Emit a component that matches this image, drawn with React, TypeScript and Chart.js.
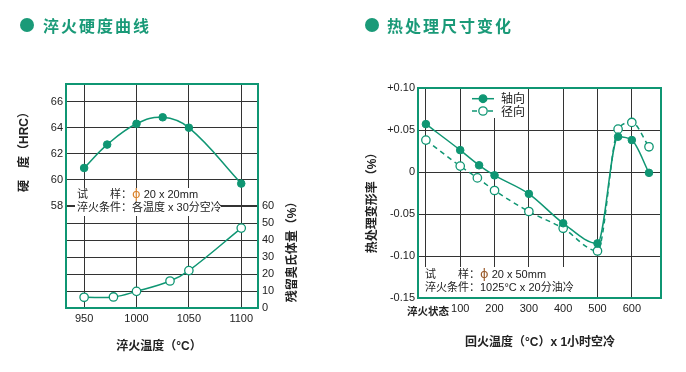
import React, { useEffect, useRef } from 'react';
import { Chart, registerables } from 'chart.js';

Chart.register(...registerables);

const GREEN = '#0f9673';
const TITLE_GREEN = '#1a9a78';
const GRID = '#333333';
const TEXT = '#222222';
const ORANGE = '#d9822b';
const NUM_FONT = '"Liberation Sans", Arial, sans-serif';

// ---------- Left chart: 淬火硬度曲线 ----------
const leftTitle = '淬火硬度曲线';
const hardTemps = [950, 972, 1000, 1025, 1050, 1100];
const hardness = [60.9, 62.7, 64.3, 64.8, 64.0, 59.7];
const austTemps = [950, 978, 1000, 1032, 1050, 1100];
const austenite = [6.3, 6.5, 9.8, 15.9, 22.0, 47.0];
const leftXTicks = [950, 1000, 1050, 1100];
const hardTicks = [58, 60, 62, 64, 66];
const austTicks = [0, 10, 20, 30, 40, 50, 60];
const leftYTitle = '硬　度（HRC）';
const leftY2Title = '残留奥氏体量（%）';
const leftXTitle = '淬火温度（°C）';
const leftNote1 = ['试　　样：', 'ϕ', ' 20 x 20mm'];
const leftNote2 = ['淬火条件：各温度 x 30分空冷'];

// ---------- Right chart: 热处理尺寸变化 ----------
const rightTitle = '热处理尺寸变化';
const axialTemps = [0, 100, 155, 200, 300, 400, 500, 560, 600, 650];
const axial = [0.057, 0.026, 0.008, -0.004, -0.026, -0.061, -0.085, 0.042, 0.038, -0.001];
const radialTemps = [0, 100, 150, 200, 300, 400, 500, 560, 600, 650];
const radial = [0.038, 0.007, -0.007, -0.022, -0.047, -0.067, -0.094, 0.051, 0.059, 0.030];
const rightXTicks = [0, 100, 200, 300, 400, 500, 600];
const rightXLabels = ['淬火状态', '100', '200', '300', '400', '500', '600'];
const rightYTicks = [-0.15, -0.1, -0.05, 0, 0.05, 0.1];
const rightYLabels = ['-0.15', '-0.10', '-0.05', '0', '+0.05', '+0.10'];
const legendLabels = ['轴向', '径向'];
const rightYTitle = '热处理变形率（%）';
const rightXTitle = '回火温度（°C）x 1小时空冷';
const rightNote1 = ['试　　样：', 'ϕ', ' 20 x 50mm'];
const rightNote2 = ['淬火条件：1025°C x 20分油冷'];

type Run = { t: string; c: string; f?: string };

function drawRuns(ctx: CanvasRenderingContext2D, x: number, y: number, runs: Run[], font: string) {
  ctx.textBaseline = 'middle';
  ctx.textAlign = 'left';
  let cx = x;
  for (const r of runs) {
    ctx.font = r.f || font;
    ctx.fillStyle = r.c;
    ctx.fillText(r.t, cx, y);
    cx += ctx.measureText(r.t).width;
  }
}

function drawText(ctx: CanvasRenderingContext2D, text: string, x: number, y: number, font: string, rot = 0) {
  ctx.save();
  ctx.translate(x, y);
  ctx.rotate(rot);
  ctx.font = font;
  ctx.fillStyle = TEXT;
  ctx.textAlign = 'center';
  ctx.textBaseline = 'middle';
  ctx.fillText(text, 0, 0);
  ctx.restore();
}

const PHI_FONT = '13px "DejaVu Sans", sans-serif';
const noteRuns = (parts: string[], phiColor: string): Run[] =>
  parts.map((t) => (t === 'ϕ' ? { t, c: phiColor, f: PHI_FONT } : { t, c: TEXT }));

const tickFont = { size: 11, family: NUM_FONT };
const AXIS_TITLE_FONT = 'bold 12px "Liberation Sans", "Noto Sans CJK SC", sans-serif';
const NOTE_FONT = '11px "Liberation Sans", "Noto Sans CJK SC", sans-serif';

const leftDecor = {
  id: 'leftDecor',
  beforeDatasetsDraw(chart: any) {
    const { ctx, chartArea: a } = chart;
    ctx.save();
    ctx.fillStyle = '#ffffff';
    ctx.fillRect(75, 188, 146, 28);
    drawRuns(ctx, 77, 195, noteRuns(leftNote1, ORANGE), NOTE_FONT);
    drawRuns(ctx, 77, 208, noteRuns(leftNote2, ORANGE), NOTE_FONT);
    ctx.strokeStyle = GREEN;
    ctx.lineWidth = 2;
    ctx.strokeRect(a.left, a.top, a.right - a.left, a.bottom - a.top);
    ctx.restore();
  },
  afterDraw(chart: any) {
    const { ctx } = chart;
    drawText(ctx, leftYTitle, 25, 149, AXIS_TITLE_FONT, -Math.PI / 2);
    drawText(ctx, leftY2Title, 293, 249, AXIS_TITLE_FONT, -Math.PI / 2);
    drawText(ctx, leftXTitle, 159, 347, AXIS_TITLE_FONT);
  },
};

const rightDecor = {
  id: 'rightDecor',
  beforeDatasetsDraw(chart: any) {
    const { ctx, chartArea: a } = chart;
    ctx.save();
    ctx.fillStyle = '#ffffff';
    ctx.fillRect(80, 267, 148, 30);
    drawRuns(ctx, 82, 275, noteRuns(rightNote1, '#9a5a2a'), NOTE_FONT);
    drawRuns(ctx, 82, 288, noteRuns(rightNote2, '#9a5a2a'), NOTE_FONT);
    ctx.fillStyle = '#ffffff';
    ctx.fillRect(119, 89, 65, 29);
    const ys = [98.7, 111];
    legendLabels.forEach((lab, i) => {
      const y = ys[i];
      ctx.strokeStyle = GREEN;
      ctx.lineWidth = 1.5;
      ctx.setLineDash(i === 1 ? [5, 3] : []);
      ctx.beginPath();
      ctx.moveTo(129, y);
      ctx.lineTo(151, y);
      ctx.stroke();
      ctx.setLineDash([]);
      ctx.beginPath();
      ctx.arc(140, y, i === 0 ? 3.8 : 4.2, 0, Math.PI * 2);
      ctx.fillStyle = i === 0 ? GREEN : '#ffffff';
      ctx.fill();
      ctx.lineWidth = 1.3;
      ctx.stroke();
      ctx.fillStyle = TEXT;
      ctx.font = '12px "Noto Sans CJK SC", sans-serif';
      ctx.textAlign = 'left';
      ctx.textBaseline = 'middle';
      ctx.fillText(lab, 158, y);
    });
    ctx.strokeStyle = GREEN;
    ctx.lineWidth = 2;
    ctx.strokeRect(a.left, a.top, a.right - a.left, a.bottom - a.top);
    ctx.restore();
  },
  afterDraw(chart: any) {
    const { ctx } = chart;
    const xs = chart.scales.x;
    ctx.save();
    ctx.font = 'bold 10.5px "Noto Sans CJK SC", sans-serif';
    ctx.fillStyle = TEXT;
    ctx.textAlign = 'center';
    ctx.textBaseline = 'middle';
    ctx.fillText(rightXLabels[0], xs.getPixelForValue(rightXTicks[0]) + 2, 311);
    ctx.restore();
    drawText(ctx, rightYTitle, 30, 200, AXIS_TITLE_FONT, -Math.PI / 2);
    drawText(ctx, rightXTitle, 197, 343, AXIS_TITLE_FONT);
  },
};

const toPts = (xs: number[], ys: number[]) => xs.map((x, i) => ({ x, y: ys[i] }));

export default function App() {
  const leftRef = useRef<HTMLCanvasElement>(null);
  const rightRef = useRef<HTMLCanvasElement>(null);

  useEffect(() => {
    const gridOpts = { color: GRID, lineWidth: 1, drawTicks: false };
    const left = new Chart(leftRef.current as HTMLCanvasElement, {
      type: 'line',
      data: {
        datasets: [
          {
            data: toPts(hardTemps, hardness),
            yAxisID: 'y',
            borderColor: GREEN,
            backgroundColor: GREEN,
            borderWidth: 1.5,
            pointRadius: 3.8,
            pointBackgroundColor: GREEN,
            pointBorderColor: GREEN,
            pointBorderWidth: 1,
            tension: 0.4,
          },
          {
            data: toPts(austTemps, austenite),
            yAxisID: 'y2',
            borderColor: GREEN,
            backgroundColor: '#ffffff',
            borderWidth: 1.5,
            pointRadius: 4.2,
            pointBackgroundColor: '#ffffff',
            pointBorderColor: GREEN,
            pointBorderWidth: 1.3,
            tension: 0.4,
          },
        ],
      },
      options: {
        responsive: false,
        animation: false,
        events: [],
        layout: { padding: { top: 84, left: 0, right: 0, bottom: 0 } },
        plugins: { legend: { display: false }, tooltip: { enabled: false } },
        scales: {
          x: {
            type: 'linear',
            min: 932.7,
            max: 1116,
            afterBuildTicks: (s: any) => { s.ticks = leftXTicks.map((v) => ({ value: v })); },
            afterFit: (s: any) => { s.height = 64; },
            grid: gridOpts,
            border: { display: false },
            ticks: { color: TEXT, font: tickFont, padding: 4, maxRotation: 0, callback: (v: any) => String(v) },
          },
          y: {
            type: 'linear',
            position: 'left',
            min: 50.13,
            max: 67.36,
            afterBuildTicks: (s: any) => { s.ticks = hardTicks.map((v) => ({ value: v })); },
            afterFit: (s: any) => { s.width = 66; },
            grid: gridOpts,
            border: { display: false },
            ticks: { color: TEXT, font: tickFont, padding: 3, callback: (v: any) => String(v) },
          },
          y2: {
            type: 'linear',
            position: 'right',
            min: 0,
            max: 131.8,
            afterBuildTicks: (s: any) => { s.ticks = austTicks.map((v) => ({ value: v })); },
            afterFit: (s: any) => { s.width = 85; },
            grid: gridOpts,
            border: { display: false },
            ticks: { color: TEXT, font: tickFont, padding: 4, callback: (v: any) => String(v) },
          },
        },
      } as any,
      plugins: [leftDecor],
    });

    const right = new Chart(rightRef.current as HTMLCanvasElement, {
      type: 'line',
      data: {
        datasets: [
          {
            data: toPts(axialTemps, axial),
            borderColor: GREEN,
            backgroundColor: GREEN,
            borderWidth: 1.5,
            pointRadius: 3.8,
            pointBackgroundColor: GREEN,
            pointBorderColor: GREEN,
            pointBorderWidth: 1,
            cubicInterpolationMode: 'monotone',
          },
          {
            data: toPts(radialTemps, radial),
            borderColor: GREEN,
            backgroundColor: '#ffffff',
            borderWidth: 1.5,
            borderDash: [5, 4],
            pointRadius: 4.2,
            pointBackgroundColor: '#ffffff',
            pointBorderColor: GREEN,
            pointBorderWidth: 1.3,
            cubicInterpolationMode: 'monotone',
          },
        ],
      },
      options: {
        responsive: false,
        animation: false,
        events: [],
        layout: { padding: { top: 88, left: 0, right: 25, bottom: 0 } },
        plugins: { legend: { display: false }, tooltip: { enabled: false } },
        scales: {
          x: {
            type: 'linear',
            min: -23,
            max: 685,
            afterBuildTicks: (s: any) => { s.ticks = rightXTicks.map((v) => ({ value: v })); },
            afterFit: (s: any) => { s.height = 74; },
            grid: gridOpts,
            border: { display: false },
            ticks: {
              color: TEXT,
              font: tickFont,
              padding: 4,
              maxRotation: 0,
              callback: (_v: any, i: number) => (i === 0 ? '' : rightXLabels[i]),
            },
          },
          y: {
            type: 'linear',
            position: 'left',
            min: -0.15,
            max: 0.1,
            afterBuildTicks: (s: any) => { s.ticks = rightYTicks.map((v) => ({ value: v })); },
            afterFit: (s: any) => { s.width = 75; },
            grid: gridOpts,
            border: { display: false },
            ticks: { color: TEXT, font: tickFont, padding: 3, callback: (_v: any, i: number) => rightYLabels[i] },
          },
        },
      } as any,
      plugins: [rightDecor],
    });

    return () => {
      left.destroy();
      right.destroy();
    };
  }, []);

  const titleStyle: React.CSSProperties = {
    position: 'absolute',
    top: 14,
    lineHeight: '22px',
    fontSize: 16,
    fontWeight: 'bold',
    letterSpacing: 2,
    color: TITLE_GREEN,
    fontFamily: '"Noto Sans CJK SC", sans-serif',
    whiteSpace: 'nowrap',
  };
  const dotStyle: React.CSSProperties = {
    position: 'absolute',
    top: 18,
    width: 14,
    height: 14,
    borderRadius: '50%',
    background: TITLE_GREEN,
  };

  return (
    <div style={{ position: 'absolute', left: 0, top: 0, width: 686, height: 372, background: '#ffffff', overflow: 'hidden' }}>
      <canvas ref={leftRef} width={343} height={372} style={{ position: 'absolute', left: 0, top: 0, width: 343, height: 372 }} />
      <canvas ref={rightRef} width={343} height={372} style={{ position: 'absolute', left: 343, top: 0, width: 343, height: 372 }} />
      <div style={{ ...dotStyle, left: 20 }} />
      <div style={{ ...titleStyle, left: 43 }}>{leftTitle}</div>
      <div style={{ ...dotStyle, left: 365 }} />
      <div style={{ ...titleStyle, left: 387 }}>{rightTitle}</div>
    </div>
  );
}
